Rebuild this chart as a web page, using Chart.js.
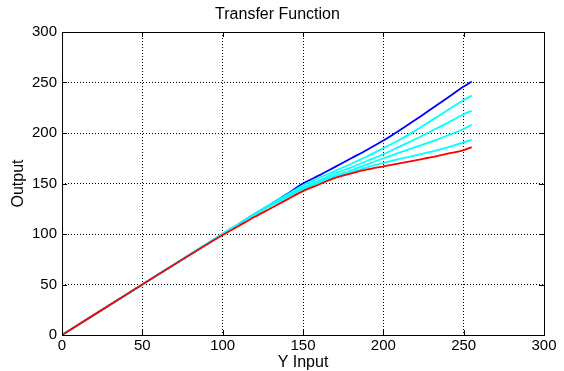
<!DOCTYPE html>
<html>
<head>
<meta charset="utf-8">
<script src="https://cdn.jsdelivr.net/npm/chart.js@4"></script>
<style>
  html, body { margin: 0; padding: 0; background: #fff; }
  #wrap { width: 564px; height: 371px; }
</style>
</head>
<body>
<div id="wrap"><canvas id="chart"></canvas></div>
<script>
const xInput = [0, 50, 100, 110, 120, 130, 140, 150, 160, 170, 180, 190, 200, 210, 220, 230, 240, 250, 255];

const blue  = [0, 50, 100, 110, 120, 129.5, 139.5, 150, 158, 166.5, 175, 183.5, 192.5, 202.5, 213, 224, 235, 246, 251];
const cyan1 = [0, 50, 100, 110, 120, 129.5, 139, 148, 155.5, 162.5, 169.5, 177, 185, 193, 202.5, 212.5, 222.5, 232.6, 237];
const cyan2 = [0, 50, 100, 110, 120, 129, 138, 146, 153, 160, 166, 172.5, 179, 186.5, 194, 202, 210, 218.5, 222];
const cyan3 = [0, 50, 100, 110, 119.5, 128.5, 137, 145, 151.5, 157.5, 163, 169, 175, 180.5, 186, 191.5, 197.5, 204, 208];
const cyan4 = [0, 50, 100, 109.5, 119, 128, 136, 144, 150.5, 156, 161, 166, 170.5, 174.3, 177.8, 181.5, 185.8, 190.7, 193.3];
const red   = [0, 50, 99, 108, 117, 125.5, 134, 142.5, 149, 155.5, 160, 164, 167, 170, 173, 176, 179.5, 183, 186];

const ticks = [0, 50, 100, 150, 200, 250, 300];

const pts = (ys) => ys.map((y, i) => ({ x: xInput[i], y }));

const line = (data, color, order) => ({
  data: pts(data),
  borderColor: color,
  borderWidth: 1.8,
  pointRadius: 0,
  cubicInterpolationMode: 'monotone',
  fill: false,
  order,
});

// box round the plot and short ticks pointing inwards
const matlabBox = {
  id: 'matlabBox',
  afterDraw(chart) {
    const { ctx, chartArea: a, scales } = chart;
    ctx.save();
    ctx.setLineDash([]);
    ctx.strokeStyle = '#000';
    ctx.lineWidth = 1;
    ctx.strokeRect(a.left + 0.5, a.top + 0.5, a.right - a.left, a.bottom - a.top);
    ctx.beginPath();
    ticks.forEach((t) => {
      const x = Math.round(scales.x.getPixelForValue(t)) + 0.5;
      ctx.moveTo(x, a.bottom); ctx.lineTo(x, a.bottom - 5);
      ctx.moveTo(x, a.top); ctx.lineTo(x, a.top + 5);
      const y = Math.round(scales.y.getPixelForValue(t)) + 0.5;
      ctx.moveTo(a.left, y); ctx.lineTo(a.left + 5, y);
      ctx.moveTo(a.right, y); ctx.lineTo(a.right - 5, y);
    });
    ctx.stroke();
    ctx.restore();
  },
};

const family = 'Liberation Sans, Arial, sans-serif';
const tickFont = { family, size: 15, lineHeight: 1 };
const labelFont = { family, size: 16, lineHeight: 1 };

const axis = (title, pad, tickPad) => ({
  type: 'linear',
  min: 0,
  max: 300,
  ticks: { stepSize: 50, color: '#000', font: tickFont, padding: tickPad, maxRotation: 0 },
  grid: { color: '#000', lineWidth: 1, drawTicks: false },
  border: { display: false, dash: [1, 2] },
  title: { display: true, text: title, color: '#000', font: labelFont, padding: pad },
});

new Chart(document.getElementById('chart'), {
  type: 'line',
  data: {
    datasets: [
      line(red, '#ff0000', 0),
      line(cyan4, '#00ffff', 1),
      line(cyan3, '#00ffff', 2),
      line(cyan2, '#00ffff', 3),
      line(cyan1, '#00ffff', 4),
      line(blue, '#0000ff', 5),
    ],
  },
  options: {
    responsive: true,
    maintainAspectRatio: false,
    animation: false,
    layout: { padding: { left: 11, right: 20, top: 0, bottom: 0 } },
    plugins: {
      legend: { display: false },
      tooltip: { enabled: false },
      title: {
        display: true,
        text: 'Transfer Function',
        color: '#000',
        font: { ...labelFont, weight: 'normal' },
        padding: { top: 7, bottom: 9 },
      },
    },
    scales: {
      x: axis('Y Input', { top: -1, bottom: 0 }, 3),
      y: axis('Output', { top: 0, bottom: 0 }, 5),
    },
  },
  plugins: [matlabBox],
});
</script>
</body>
</html>
